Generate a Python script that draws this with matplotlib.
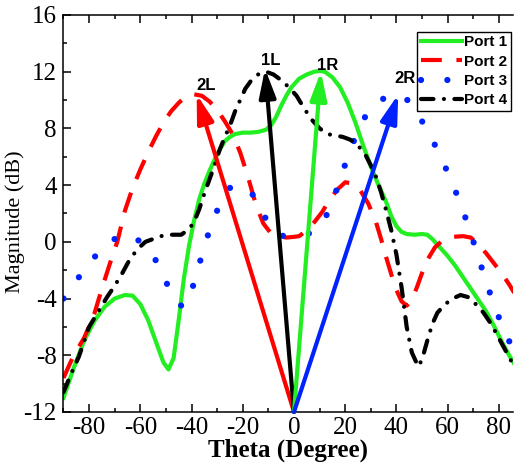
import matplotlib
matplotlib.use('Agg')
import matplotlib.pyplot as plt
from matplotlib.ticker import MultipleLocator

plt.rcParams['axes.unicode_minus'] = False

# Port 1 (green, solid)
theta_p1 = [-90, -86, -82, -78, -74, -70, -66, -63, -60, -57, -54, -51, -49, -47, -45, -43, -41, -39,
            -37, -35, -33, -31, -29, -27, -25, -23, -20, -17, -14, -11, -9, -7, -5, -3, -1, 2, 5, 8,
            10, 12, 15, 18, 21, 24, 27, 30, 33, 36, 38, 40, 42, 44, 47, 50, 52, 54, 57, 60, 63, 66,
            69, 72, 75, 78, 81, 84, 86]
mag_p1 = [-11.0, -8.9, -7.0, -5.6, -4.6, -4.0, -3.75, -3.8, -4.4, -5.5, -7.0, -8.5, -9.0, -8.2, -5.5,
          -2.6, -0.3, 1.5, 3.0, 4.1, 5.0, 5.8, 6.5, 7.1, 7.4, 7.6, 7.7, 7.7, 7.75, 7.9, 8.2, 8.8, 9.6,
          10.3, 10.9, 11.5, 11.8, 12.0, 12.05, 12.0, 11.6, 10.9, 9.8, 8.4, 6.8, 5.3, 4.0, 2.8, 1.8,
          1.1, 0.7, 0.55, 0.5, 0.55, 0.5, 0.2, -0.4, -1.0, -1.7, -2.5, -3.3, -4.1, -4.9, -5.9, -7.0,
          -8.0, -8.6]

# Port 2 (red, dashed)
theta_p2 = [-90, -86, -82, -78, -75, -72, -69, -66, -63, -60, -57, -54, -51, -48, -45, -42, -39, -36,
            -33, -30, -27, -24, -21, -18, -15, -12, -9, -6, -3, 0, 2, 5, 8, 11, 14, 17, 20, 23, 26,
            29, 32, 34, 36, 38, 40, 42, 44, 46, 48, 50, 52, 55, 58, 62, 66, 69, 72, 75, 78, 81, 84, 86]
mag_p2 = [-9.6, -8.0, -6.8, -5.1, -3.3, -1.6, 0.0, 2.2, 3.8, 5.1, 6.3, 7.4, 8.4, 9.2, 9.8, 10.3, 10.4,
          10.3, 9.9, 9.3, 8.5, 7.6, 6.3, 4.6, 2.7, 1.3, 0.6, 0.4, 0.3, 0.35, 0.4, 0.8, 1.4, 2.1, 3.0,
          3.7, 4.2, 4.1, 3.6, 2.7, 1.4, 0.2, -1.1, -2.3, -3.4, -4.2, -4.5, -4.1, -3.2, -2.2, -1.3,
          -0.4, 0.1, 0.35, 0.4, 0.3, -0.2, -0.8, -1.5, -2.2, -3.0, -3.6]

# Port 3 (blue, dotted)
theta_p3 = [-90, -87, -84, -81, -78, -75, -72, -69, -66, -63, -60, -57, -54, -51, -48, -45, -43, -41,
            -39, -37, -35, -33, -31, -29, -27, -25, -22, -19, -16, -13, -10, -7, -4, 0, 3, 6, 9, 12,
            15, 18, 21, 24, 27, 30, 33, 36, 39, 42, 45, 48, 51, 54, 57, 60, 63, 66, 69, 72, 75, 78,
            81, 84, 86]
mag_p3 = [-4.0, -3.2, -2.5, -1.8, -1.1, -0.5, 0.0, 0.3, 0.5, 0.4, 0.0, -0.5, -1.3, -2.4, -3.6, -4.4,
          -4.6, -3.9, -2.9, -1.6, -0.3, 0.8, 1.8, 2.6, 3.3, 3.8, 4.0, 3.8, 3.3, 2.3, 1.3, 0.6, 0.4,
          0.4, 0.45, 0.6, 0.9, 1.6, 2.8, 4.4, 6.0, 7.4, 8.6, 9.4, 9.9, 10.2, 10.35, 10.3, 9.9, 9.1,
          8.2, 7.2, 6.1, 4.9, 3.6, 2.2, 0.6, -1.1, -2.8, -4.4, -5.8, -7.0, -7.7]

# Port 4 (black, dash-dot)
theta_p4 = [-90, -87, -84, -80, -76, -73, -70, -67, -64, -61, -58, -55, -52, -48, -44, -41, -39, -37,
            -35, -33, -31, -29, -27, -25, -23, -21, -19, -17, -14, -11, -8, -5, -2, 1, 4, 7, 10, 13,
            16, 19, 22, 25, 28, 30, 32, 34, 36, 38, 40, 42, 44, 46, 48.5, 50, 52, 54, 56, 59, 62, 65,
            68, 71, 74, 77, 80, 83, 86]
mag_p4 = [-10.6, -9.3, -8.1, -6.0, -4.8, -3.9, -3.1, -2.2, -1.2, -0.5, 0.0, 0.2, 0.4, 0.5, 0.5, 0.9,
          1.4, 2.3, 3.4, 4.4, 5.4, 6.5, 7.4, 8.2, 9.2, 10.0, 10.8, 11.3, 11.8, 12.0, 11.8, 11.4,
          10.9, 10.3, 9.4, 8.6, 8.0, 7.6, 7.5, 7.4, 7.2, 6.8, 6.1, 5.4, 4.6, 3.5, 2.2, 0.8, -0.9,
          -3.2, -6.0, -7.8, -8.8, -8.3, -7.0, -5.8, -5.0, -4.4, -4.0, -3.75, -3.9, -4.4, -5.0, -5.8,
          -6.8, -7.8, -8.8]

# beam arrows: label, tip (theta, dB), colour, label position
beam_labels = ['2L', '1L', '1R', '2R']
beam_tips = [(-38, 10.4), (-11.3, 12.2), (10.5, 12.0), (40.7, 10.4)]
beam_colors = ['#ff0000', '#000000', '#22ee22', '#0022ff']
label_pos = [(-34.3, 11.0), (-9.0, 12.8), (13.1, 12.4), (43.5, 11.5)]
arrow_origin = (0, -12)

fig = plt.figure(figsize=(5.14, 4.71), dpi=100)
ax = fig.add_axes([0.1235, 0.1253, 0.8745, 0.843])

ax.plot(theta_p1, mag_p1, color='#22ee22', lw=3, label='Port 1')
ax.plot(theta_p2, mag_p2, color='#ff0000', lw=3, dashes=(5, 3.5), label='Port 2')
ax.plot(theta_p3, mag_p3, color='#0022ff', lw=4.5, dashes=(0.01, 4.2), dash_capstyle='round', label='Port 3')
ax.plot(theta_p4, mag_p4, color='black', lw=3, dashes=(3, 2.5, 0.01, 2.5), dash_capstyle='round', label='Port 4')

for lab, tip, col, pos in zip(beam_labels, beam_tips, beam_colors, label_pos):
    ax.annotate('', xy=tip, xytext=arrow_origin,
                arrowprops=dict(arrowstyle='-|>,head_length=0.85,head_width=0.25', mutation_scale=20,
                                lw=3, color=col, shrinkA=0, shrinkB=0), zorder=5)
    ax.text(pos[0], pos[1], lab, ha='center', va='center', fontsize=12, fontweight='bold',
            family='Liberation Sans', zorder=6)

ax.set_xlim(-90, 85.5)
ax.set_ylim(-12, 16)
ax.xaxis.set_major_locator(MultipleLocator(20))
ax.xaxis.set_minor_locator(MultipleLocator(10))
ax.yaxis.set_major_locator(MultipleLocator(4))
ax.yaxis.set_minor_locator(MultipleLocator(2))
ax.tick_params(which='both', direction='in', top=True, right=False, width=1.1)
ax.tick_params(which='major', length=6)
ax.tick_params(which='minor', length=3)
ax.tick_params(axis='y', pad=5)
for lbl in ax.get_xticklabels() + ax.get_yticklabels():
    lbl.set_family('Liberation Serif')
    lbl.set_fontsize(18)
for s in ['left', 'bottom', 'top']:
    ax.spines[s].set_linewidth(1.1)
ax.spines['right'].set_visible(False)

ax.set_xlabel('Theta (Degree)', family='Liberation Serif', fontsize=18, fontweight='bold', labelpad=0)
ax.set_ylabel('Magnitude (dB)', family='Liberation Serif', fontsize=16)
ax.yaxis.set_label_coords(-0.085, 0.479)

leg = ax.legend(loc='upper right', bbox_to_anchor=(0.9955, 0.958), borderaxespad=0,
                prop={'family': 'Liberation Sans', 'weight': 'bold', 'size': 11},
                handlelength=2.7, handletextpad=0.1, labelspacing=0.35, borderpad=0.25,
                fancybox=False, framealpha=1, edgecolor='black')
leg.get_frame().set_linewidth(1.0)

fig.savefig('out.png', dpi=100)
